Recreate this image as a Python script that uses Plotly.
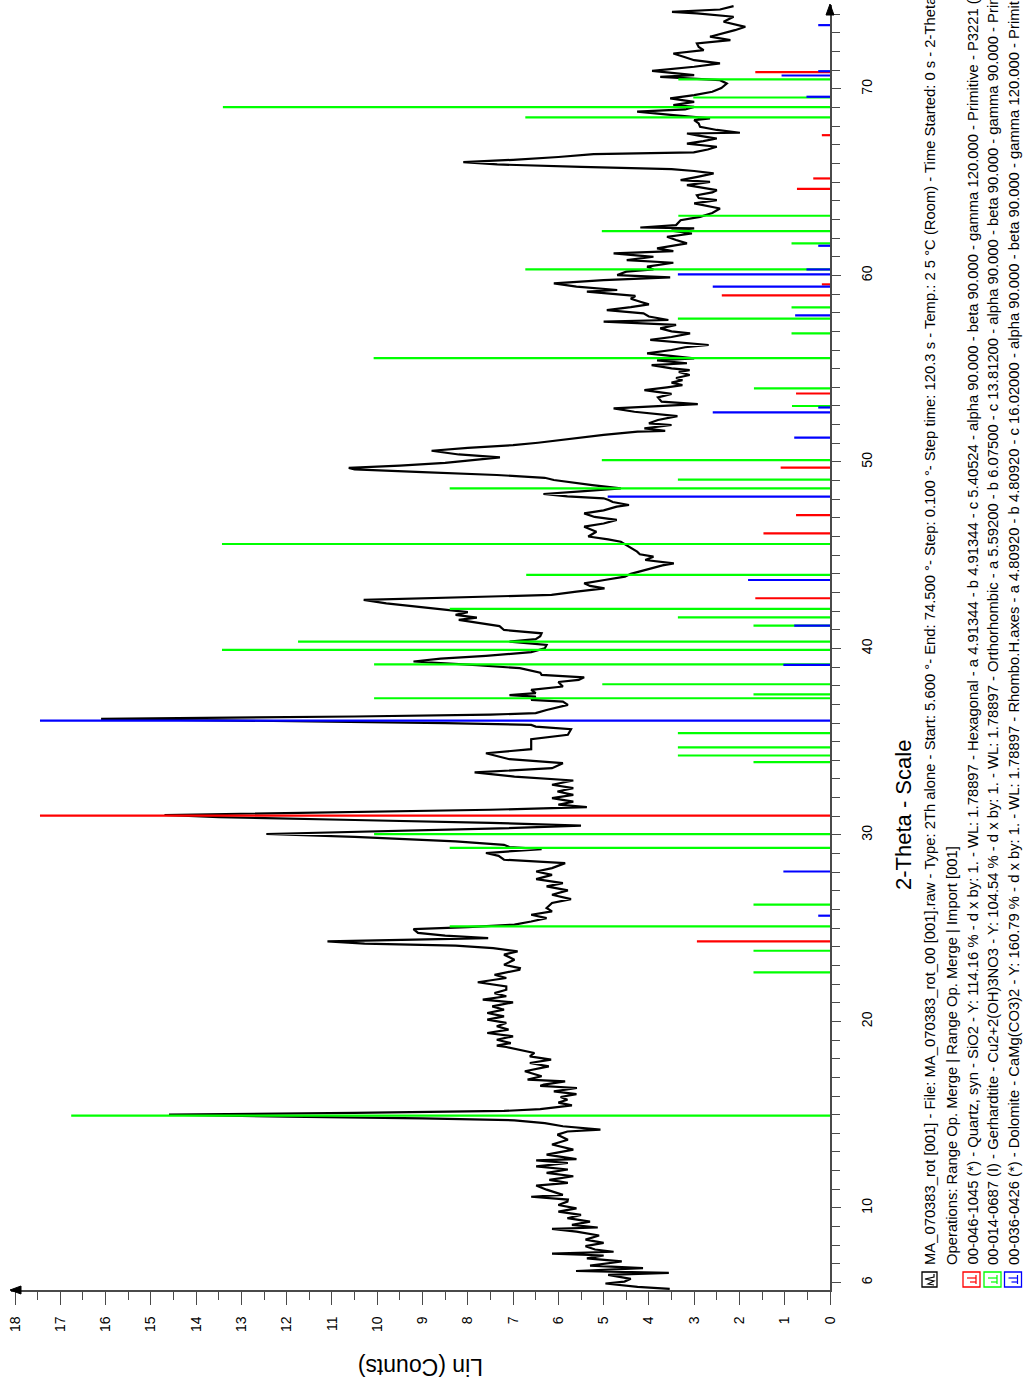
import plotly.graph_objects as go

# ---------------- data ----------------
two_theta = [5.66, 5.77, 5.95, 6.05, 6.2, 6.41, 6.52, 6.62, 6.77, 6.91, 7.13, 7.3, 7.45, 7.55, 7.65, 7.77, 7.95,
             8.13, 8.3, 8.52, 8.73, 8.88, 8.95, 9.09, 9.27, 9.45, 9.63, 9.8, 9.98, 10.16, 10.34, 10.45, 10.6,
             10.7, 10.98, 11.2, 11.34, 11.5, 11.7, 11.88, 12.06, 12.23, 12.41, 12.55, 12.62, 12.86, 13.13, 13.4,
             13.66, 13.93, 14.1, 14.2, 14.38, 14.55, 14.7, 14.8, 14.9, 15.0, 15.1, 15.2, 15.3, 15.4, 15.5, 15.65,
             15.8, 15.95, 16.1, 16.25, 16.43, 16.55, 16.61, 16.79, 16.88, 17.06, 17.33, 17.59, 17.77, 17.95,
             18.13, 18.31, 18.49, 18.63, 18.7, 18.84, 19.02, 19.2, 19.38, 19.56, 19.74, 19.92, 20.1, 20.27, 20.45,
             20.63, 20.81, 21.02, 21.17, 21.35, 21.52, 21.7, 21.88, 22.1, 22.33, 22.5, 22.77, 22.86, 23.04, 23.31,
             23.58, 23.76, 23.93, 24.06, 24.17, 24.29, 24.47, 24.6, 24.75, 24.95, 25.06, 25.19, 25.36, 25.54,
             25.72, 25.9, 26.08, 26.35, 26.56, 26.79, 27.03, 27.24, 27.42, 27.63, 27.86, 28.04, 28.22, 28.49,
             28.67, 28.88, 29.03, 29.24, 29.35, 29.47, 29.65, 29.75, 29.9, 30.05, 30.2, 30.35, 30.5, 30.65, 30.8,
             30.95, 31.07, 31.2, 31.35, 31.49, 31.62, 31.79, 31.97, 32.15, 32.33, 32.51, 32.69, 32.92, 33.13,
             33.35, 33.58, 33.85, 34.06, 34.38, 34.6, 34.88, 35.13, 35.37, 35.67, 35.81, 35.9, 36.0, 36.1, 36.22,
             36.35, 36.45, 36.53, 36.7, 36.97, 37.15, 37.24, 37.42, 37.5, 37.6, 37.78, 37.96, 38.2, 38.31, 38.45,
             38.58, 38.7, 38.94, 39.1, 39.3, 39.45, 39.6, 39.8, 40.0, 40.19, 40.37, 40.5, 40.65, 40.81, 40.99,
             41.2, 41.4, 41.53, 41.65, 41.8, 41.95, 42.1, 42.24, 42.42, 42.6, 42.72, 42.87, 43.05, 43.22, 43.35,
             43.49, 43.67, 43.85, 44.0, 44.12, 44.3, 44.45, 44.56, 44.74, 44.92, 45.05, 45.19, 45.46, 45.72,
             45.85, 46.0, 46.26, 46.4, 46.53, 46.7, 46.89, 47.05, 47.24, 47.4, 47.6, 47.69, 47.85, 47.96, 48.05,
             48.15, 48.28, 48.42, 48.58, 48.76, 49.03, 49.15, 49.3, 49.45, 49.6, 49.68, 49.8, 49.95, 50.1, 50.24,
             50.4, 50.6, 50.75, 50.9, 51.03, 51.3, 51.45, 51.62, 51.67, 51.8, 51.98, 52.07, 52.25, 52.46, 52.69,
             52.87, 53.0, 53.1, 53.23, 53.46, 53.65, 53.85, 54.0, 54.12, 54.25, 54.39, 54.5, 54.66, 54.83, 54.92,
             55.02, 55.19, 55.29, 55.45, 55.55, 55.7, 55.82, 56.0, 56.15, 56.27, 56.4, 56.54, 56.7, 56.89, 57.0,
             57.16, 57.35, 57.52, 57.61, 57.8, 57.97, 58.14, 58.3, 58.45, 58.59, 58.75, 58.9, 59.05, 59.13, 59.22,
             59.4, 59.57, 59.75, 59.9, 60.02, 60.2, 60.32, 60.47, 60.68, 60.82, 61.0, 61.18, 61.3, 61.45, 61.6,
             61.72, 61.9, 62.07, 62.25, 62.4, 62.52, 62.57, 62.7, 62.96, 63.14, 63.35, 63.59, 63.75, 63.86, 64.04,
             64.15, 64.3, 64.45, 64.57, 64.7, 64.84, 65.02, 65.11, 65.3, 65.47, 65.6, 65.7, 65.82, 65.95, 66.08,
             66.2, 66.35, 66.5, 66.6, 66.75, 66.9, 67.07, 67.2, 67.34, 67.5, 67.61, 67.65, 67.8, 67.97, 68.15,
             68.33, 68.42, 68.6, 68.78, 68.9, 69.04, 69.13, 69.31, 69.49, 69.67, 69.85, 70.05, 70.29, 70.47,
             70.65, 70.74, 70.97, 71.19, 71.37, 71.54, 71.7, 71.9, 72.08, 72.25, 72.44, 72.62, 72.8, 73.0, 73.15,
             73.33, 73.6, 73.87, 74.05, 74.13, 74.26, 74.44]
lin_counts = [3.54, 4.25, 4.96, 4.54, 4.4, 4.9, 3.56, 5.61, 4.13, 5.3, 4.6, 5.37, 5.0, 6.14, 4.78, 5.19, 5.4,
              5.0, 5.4, 5.1, 5.6, 6.14, 5.13, 5.7, 5.3, 5.8, 5.5, 6.0, 5.6, 6.0, 5.8, 5.79, 6.6,
              5.9, 6.26, 6.49, 5.79, 6.2, 5.67, 6.26, 5.79, 6.49, 5.79, 6.49, 5.6, 6.26, 5.67, 6.14,
              5.79, 6.02, 5.8, 5.07, 5.9, 6.3, 6.97, 9.0, 12.0, 14.6, 10.5, 7.2, 6.4, 6.0, 5.7, 6.0,
              5.8, 5.95, 5.6, 6.1, 5.59, 6.4, 6.32, 5.85, 6.68, 6.37, 6.74, 6.21, 6.63, 6.16,
              6.63, 6.53, 6.84, 7.15, 7.36, 7.05, 7.36, 7.0, 7.57, 7.1, 7.36, 7.15, 7.57, 7.2, 7.57,
              7.2, 7.46, 7.0, 7.67, 7.15, 7.41, 7.15, 7.15, 7.78, 7.15, 7.41, 6.86, 6.85, 7.2, 6.97,
              7.2, 6.9, 7.44, 8.27, 10.28, 11.1, 7.55, 8.5, 9.1, 9.2, 8.0, 6.97, 6.6, 6.26,
              6.6, 6.14, 6.26, 6.14, 5.72, 6.14, 5.79, 6.26, 5.9, 6.49, 6.14, 6.49, 6.14, 5.85,
              7.2, 7.32, 7.6, 6.37, 7.08, 7.2, 8.27, 9.1, 10.5, 12.45, 9.8, 7.3, 5.5, 7.5, 10.5,
              13.5, 14.7, 11.0, 7.5, 5.37, 6.0, 5.67, 6.14, 5.67, 6.02, 5.67, 6.14, 5.67, 6.97,
              7.85, 6.14, 5.9, 7.08, 7.6, 6.6, 6.6, 6.6, 5.79, 5.72, 6.5, 6.6, 8.5, 12.5, 16.1,
              10.5, 7.5, 6.5, 6.26, 5.79, 5.9, 6.6, 6.5, 7.08, 6.5, 6.6, 5.9, 6.0, 5.55, 5.43,
              6.37, 6.4, 6.85, 7.8, 9.2, 8.6, 7.6, 6.6, 6.3, 6.26, 7.08, 6.5, 6.4, 6.37, 7.2,
              7.3, 7.9, 8.2, 7.8, 8.27, 8.0, 8.6, 9.1, 9.8, 10.3, 8.3, 6.15, 5.6, 4.98, 5.3,
              5.43, 4.98, 4.53, 4.4, 4.22, 3.9, 3.7, 3.45, 4.08, 3.9, 4.2, 4.26, 4.44, 4.62,
              4.9, 5.34, 5.16, 5.3, 5.43, 5.0, 4.71, 5.2, 5.43, 5.0, 4.71, 4.44, 4.8, 4.89, 5.0,
              5.8, 6.33, 5.5, 4.62, 5.25, 6.1, 6.3, 7.36, 9.0, 10.5, 10.63, 9.5, 8.5, 7.8, 7.29,
              8.2, 8.8, 8.0, 7.0, 6.45, 5.6, 5.0, 4.25, 3.64, 4.1, 3.5, 4.0, 3.8, 3.37, 4.32,
              4.78, 3.8, 2.92, 3.72, 3.8, 3.5, 4.1, 3.6, 3.26, 3.5, 3.26, 3.4, 3.1, 3.34, 3.1,
              3.5, 3.94, 3.16, 3.82, 3.0, 3.6, 4.04, 3.5, 3.2, 2.68, 3.4, 3.97, 3.5, 3.09, 3.5,
              3.75, 3.4, 5.0, 3.57, 4.0, 4.12, 4.93, 4.4, 4.0, 4.19, 4.4, 4.3, 4.9, 5.37, 4.7,
              5.6, 6.1, 5.0, 3.53, 4.7, 4.5, 3.9, 4.04, 3.46, 4.49, 3.9, 4.78, 3.46, 3.82, 3.5,
              3.16, 3.4, 3.6, 3.05, 3.5, 3.0, 4.19, 3.4, 3.3, 2.87, 2.6, 2.43, 2.8, 3.0, 2.5,
              2.9, 2.94, 2.6, 2.5, 2.8, 3.16, 2.65, 3.3, 2.9, 2.57, 3.0, 3.5, 5.5, 7.35, 8.1,
              7.0, 6.0, 5.22, 3.01, 2.7, 2.5, 3.16, 2.8, 2.5, 2.9, 3.16, 1.99, 2.5, 2.87, 2.9,
              3.0, 2.65, 3.46, 4.26, 3.2, 3.0, 3.46, 3.0, 3.53, 3.0, 2.6, 2.4, 2.28, 2.43,
              3.75, 3.0, 3.93, 3.0, 2.43, 3.0, 3.2, 3.46, 2.79, 2.9, 2.94, 2.2, 2.65, 2.3, 2.1,
              1.87, 2.35, 2.13, 2.94, 3.49, 2.43, 2.13]

quartz_pos = [24.29, 31.04, 42.69, 46.17, 47.15, 49.69, 53.67, 58.93, 59.52, 64.64, 65.2, 67.52, 70.9]
quartz_int = [2.94, 17.45, 1.65, 1.47, 0.75, 1.09, 0.75, 2.39, 0.18, 0.73, 0.37, 0.18, 1.65]

gerhardtite_pos = [14.95, 22.63, 23.79, 25.1, 26.26, 29.31, 30.04, 33.9, 34.26, 34.69, 35.46, 37.33, 37.54,
                   38.08, 39.15, 39.92, 40.37, 41.22, 41.67, 42.12, 43.94, 45.6, 48.58, 49.05, 50.1, 53.0,
                   53.94, 55.57, 56.89, 57.68, 58.29, 60.32, 61.72, 62.38, 63.2, 68.47, 69.02, 69.54, 70.51]
gerhardtite_int = [16.76, 1.69, 1.69, 8.4, 1.69, 8.4, 10.07, 1.69, 3.36, 3.36, 3.36, 10.07, 1.69,
                   5.03, 10.07, 13.43, 11.75, 1.69, 3.36, 8.4, 6.71, 13.43, 8.4, 3.36, 5.04, 0.84,
                   1.68, 10.08, 0.85, 3.36, 0.85, 6.73, 0.85, 5.04, 3.35, 6.73, 13.41, 3.02, 3.35]

dolomite_pos = [25.67, 28.04, 36.13, 39.12, 41.22, 43.67, 48.14, 51.3, 52.66, 52.92, 57.86, 59.4, 60.06,
                60.32, 61.59, 69.58, 70.72, 70.95, 73.42]
dolomite_int = [0.26, 1.03, 17.45, 1.03, 0.79, 1.81, 4.91, 0.79, 2.59, 0.26, 0.77, 2.59, 3.36,
                0.52, 0.26, 0.52, 1.07, 0.26, 0.26]

count_ticks = list(range(0, 19))
theta_ticks = [6, 10, 20, 30, 40, 50, 60, 70]

legend_lines = [
    "MA_070383_rot [001] - File: MA_070383_rot_00 [001].raw - Type: 2Th alone - Start: 5.600 °- End: 74.500 °- Step: 0.100 °- Step time: 120.3 s - Temp.: 2 5 °C (Room) - Time Started: 0 s - 2-Theta: 5.600 °- Theta: 2.800 °- Chi: 0.00 °",
    "Operations: Range Op. Merge | Range Op. Merge | Import [001]",
    "00-046-1045 (*) - Quartz, syn - SiO2 - Y: 114.16 % - d x by: 1. - WL: 1.78897 - Hexagonal - a 4.91344 - b 4.91344 - c 5.40524 - alpha 90.000 - beta 90.000 - gamma 120.000 - Primitive - P3221 (154) - 3 - 113.010",
    "00-014-0687 (I) - Gerhardtite - Cu2+2(OH)3NO3 - Y: 104.54 % - d x by: 1. - WL: 1.78897 - Orthorhombic - a 5.59200 - b 6.07500 - c 13.81200 - alpha 90.000 - beta 90.000 - gamma 90.000 - Primitive - P212121 (19)",
    "00-036-0426 (*) - Dolomite - CaMg(CO3)2 - Y: 160.79 % - d x by: 1. - WL: 1.78897 - Rhombo.H.axes - a 4.80920 - b 4.80920 - c 16.02000 - alpha 90.000 - beta 90.000 - gamma 120.000 - Primitive - R-3 (148)",
]

# ---------------- figure ----------------
W, H = 1027, 1381
L, R, T, B = 11, 197, 5, 91
PW, PH = W - L - R, H - T - B
FONT = "Liberation Sans, Arial, sans-serif"
AX = "#4a4a4a"


def fx(X):
    return (X - L) / PW


def fy(Y):
    return (H - B - Y) / PH


def sticks(pos, inten):
    xs, ys = [], []
    for p, i in zip(pos, inten):
        xs += [0, i, None]
        ys += [p, p, None]
    return xs, ys


fig = go.Figure()
fig.add_trace(go.Scatter(x=lin_counts, y=two_theta, mode="lines",
                         line=dict(color="black", width=2.2), hoverinfo="skip"))
for pos, inten, col in [(quartz_pos, quartz_int, "#ff0000"),
                        (gerhardtite_pos, gerhardtite_int, "#00ff00"),
                        (dolomite_pos, dolomite_int, "#0000ff")]:
    xs, ys = sticks(pos, inten)
    fig.add_trace(go.Scatter(x=xs, y=ys, mode="lines", line=dict(color=col, width=2.2),
                             hoverinfo="skip"))

fig.update_layout(
    width=W, height=H, margin=dict(l=L, r=R, t=T, b=B, autoexpand=False),
    paper_bgcolor="white", plot_bgcolor="white", showlegend=False,
    font=dict(family=FONT, color="black"),
    xaxis=dict(range=[18.09, 0], tickmode="array", tickvals=count_ticks,
               ticks="outside", ticklen=13, tickwidth=1, tickcolor=AX,
               showline=True, linecolor=AX, linewidth=1.5, tickangle=-90,
               tickfont=dict(size=14, family=FONT), showgrid=False, zeroline=False,
               ticklabelstandoff=6, automargin=False,
               minor=dict(tickmode="linear", tick0=0, dtick=0.5, ticks="outside",
                          ticklen=8, tickcolor=AX, showgrid=False)),
    yaxis=dict(range=[5.6, 74.5], side="right", tickmode="array", tickvals=theta_ticks,
               ticks="outside", ticklen=9, tickwidth=1, tickcolor=AX,
               showline=True, linecolor=AX, linewidth=1.5, tickangle=-90,
               tickfont=dict(size=14, family=FONT), showgrid=False, zeroline=False,
               ticklabelstandoff=14, automargin=False,
               minor=dict(tickmode="linear", tick0=0, dtick=1, ticks="outside",
                          ticklen=8, tickcolor=AX, showgrid=False)),
)

shapes = []
# axis arrowheads
shapes.append(dict(type="path", xref="paper", yref="paper",
                   path=f"M {fx(830)} {fy(4)} L {fx(826)} {fy(15)} L {fx(834)} {fy(15)} Z",
                   fillcolor="black", line=dict(color="black", width=1)))
shapes.append(dict(type="path", xref="paper", yref="paper",
                   path=f"M {fx(10)} {fy(1290)} L {fx(21)} {fy(1286)} L {fx(21)} {fy(1294)} Z",
                   fillcolor="black", line=dict(color="black", width=1)))

# legend icons
icon_specs = [(922, 937, "black"), (963, 980, "#ff0000"), (984, 1001, "#00ff00"), (1004.5, 1021.5, "#0000ff")]
y0i, y1i = 1272, 1287
for (xa, xb, col) in icon_specs:
    shapes.append(dict(type="rect", xref="paper", yref="paper",
                       x0=fx(xa), x1=fx(xb), y0=fy(y1i), y1=fy(y0i),
                       line=dict(color=col, width=1.3), fillcolor="white"))
    if col == "black":
        shapes.append(dict(type="path", xref="paper", yref="paper",
                           path=(f"M {fx(xb-3)} {fy(y0i+2)} L {fx(xb-3)} {fy(y0i+5)} L {fx(xa+3)} {fy(y0i+7)} "
                                 f"L {fx(xb-3)} {fy(y0i+9)} L {fx(xa+6)} {fy(y0i+12)} L {fx(xb-3)} {fy(y1i-2)}"),
                           line=dict(color="black", width=1.2)))
    else:
        shapes.append(dict(type="line", xref="paper", yref="paper",
                           x0=fx(xb - 4), x1=fx(xb - 4), y0=fy(y0i + 3), y1=fy(y1i - 3),
                           line=dict(color=col, width=1.2)))
        shapes.append(dict(type="line", xref="paper", yref="paper",
                           x0=fx(xa + 4), x1=fx(xb - 4), y0=fy(y0i + 6), y1=fy(y0i + 6),
                           line=dict(color=col, width=1.2)))
        shapes.append(dict(type="line", xref="paper", yref="paper",
                           x0=fx(xa + 7), x1=fx(xb - 4), y0=fy(y0i + 10), y1=fy(y0i + 10),
                           line=dict(color=col, width=1.2)))
fig.update_layout(shapes=shapes)

annotations = []
line_x = [930, 951.5, 972.5, 993, 1013.5]
for txt, lx in zip(legend_lines, line_x):
    annotations.append(dict(text=txt, xref="paper", yref="paper", x=fx(lx), y=fy(1267),
                            xanchor="center", yanchor="bottom", textangle=-90, showarrow=False,
                            font=dict(size=14.8, family=FONT, color="black")))
annotations.append(dict(text="2-Theta - Scale", xref="paper", yref="paper", x=fx(903), y=fy(815),
                        xanchor="center", yanchor="middle", textangle=-90, showarrow=False,
                        font=dict(size=22, family=FONT, color="black")))
annotations.append(dict(text="Lin (Counts)", xref="paper", yref="paper", x=fx(421), y=fy(1367),
                        xanchor="center", yanchor="middle", textangle=180, showarrow=False,
                        font=dict(size=23, family=FONT, color="black")))
fig.update_layout(annotations=annotations)

fig.write_html("out.html", config={"displayModeBar": False},
               post_script="document.body.style.margin='0px';")
